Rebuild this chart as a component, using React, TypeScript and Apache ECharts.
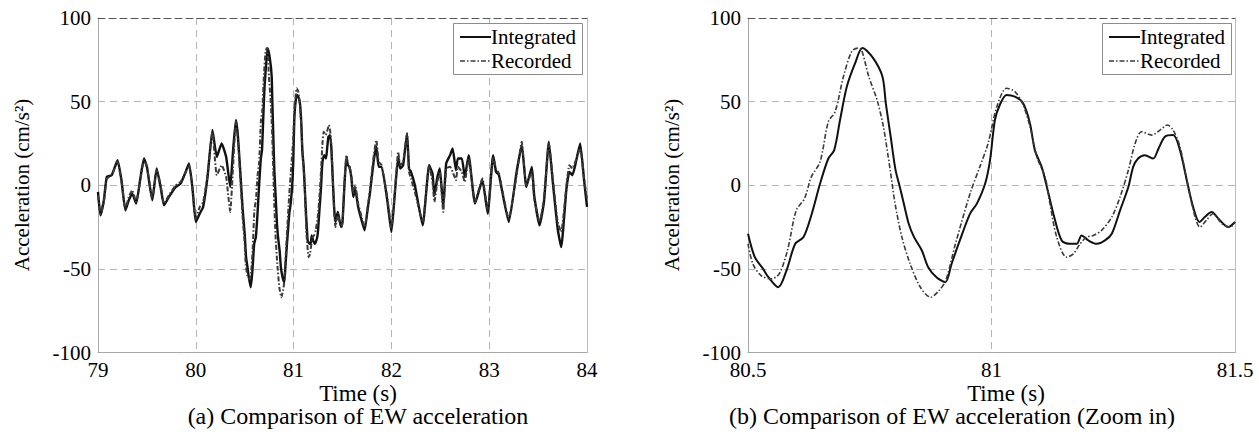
import React, { useEffect, useRef } from "react";
import * as echarts from "echarts";

const FONT = "'Liberation Serif', 'DejaVu Serif', 'Times New Roman', serif";

const seriesNames = ["Integrated", "Recorded"];
const captions = ["(a) Comparison of EW acceleration", "(b) Comparison of EW acceleration (Zoom in)"];
const xTitle = "Time (s)";
const yTitle = "Acceleration (cm/s\u00B2)";

// Panel (a), 79 – 80.5 s
const preTime = [79.0, 79.025, 79.06, 79.09, 79.14, 79.2, 79.24, 79.28, 79.315, 79.35, 79.39, 79.43, 79.47, 79.5, 79.555, 79.6, 79.64, 79.675, 79.725, 79.795, 79.845, 79.89, 79.93, 79.965, 80.0, 80.04, 80.075, 80.12, 80.17, 80.215, 80.264, 80.31, 80.352, 80.38, 80.41, 80.43, 80.455, 80.48];
const preIntegrated = [-4, -18, -9, 5, 6, 15, 3, -15, -9, -5, -11, 3, 16, 11, -9, 10, -1, -12, -7, -1, 1, 7, 13, -1, -22, -17, -13, 5, 33, 17, 25, 17, -1, 20, 39, 30, 8, -15];
const preRecorded = [-6, -17, -10, 4, 6, 14, 2, -14, -7, -3, -10, 2, 15, 11, -8, 9, 0, -11, -6, 0, 2, 7, 12, -2, -20, -13, -10, 6, 32, 6, 12, 5, -16, 10, 38, 28, 4, -20];

// Zoom window 80.5 – 81.5 s (shared by both panels)
const zoomTimeIntegrated = [80.5, 80.514, 80.531, 80.542, 80.562, 80.579, 80.597, 80.614, 80.631, 80.648, 80.665, 80.677, 80.689, 80.703, 80.72, 80.735, 80.757, 80.776, 80.783, 80.793, 80.803, 80.81, 80.82, 80.83, 80.841, 80.857, 80.87, 80.887, 80.905, 80.918, 80.935, 80.956, 80.97, 80.987, 80.997, 81.007, 81.017, 81.031, 81.048, 81.065, 81.079, 81.089, 81.103, 81.117, 81.127, 81.144, 81.161, 81.175, 81.185, 81.199, 81.216, 81.233, 81.247, 81.264, 81.281, 81.291, 81.301, 81.315, 81.332, 81.343, 81.356, 81.373, 81.387, 81.401, 81.414, 81.427, 81.438, 81.452, 81.466, 81.486, 81.5];
const zoomIntegrated = [-29, -43, -50, -55, -61, -51, -35, -31, -17, 1, 16, 21, 39, 59, 73, 82, 76, 65, 49, 29, 9, 1, -11, -23, -31, -39, -49, -55, -58, -47, -33, -17, -11, 1, 15, 39, 48, 54, 53, 49, 37, 21, 11, -5, -17, -33, -35, -35, -30, -33, -35, -33, -29, -15, -1, 11, 16, 18, 16, 22, 29, 30, 21, 3, -13, -22, -19, -16, -20, -25, -22];
const zoomTimeRecorded = [80.5, 80.51, 80.527, 80.547, 80.564, 80.581, 80.599, 80.616, 80.63, 80.648, 80.665, 80.679, 80.696, 80.713, 80.726, 80.733, 80.748, 80.765, 80.778, 80.792, 80.802, 80.816, 80.833, 80.854, 80.875, 80.892, 80.906, 80.926, 80.956, 80.976, 80.993, 81.011, 81.031, 81.048, 81.065, 81.079, 81.093, 81.11, 81.12, 81.134, 81.154, 81.168, 81.182, 81.195, 81.209, 81.226, 81.247, 81.264, 81.281, 81.295, 81.308, 81.329, 81.346, 81.361, 81.373, 81.387, 81.401, 81.418, 81.428, 81.441, 81.455, 81.473, 81.49, 81.5];
const zoomRecorded = [-35, -47, -54, -56, -53, -39, -15, -8, 5, 14, 38, 44, 65, 80, 82, 81, 65, 51, 35, 9, -11, -31, -47, -61, -67, -63, -57, -35, -5, 11, 25, 47, 58, 56, 48, 35, 17, 5, -11, -31, -43, -41, -35, -31, -30, -27, -19, -7, 9, 25, 32, 30, 33, 36, 33, 23, 3, -19, -25, -21, -17, -23, -25, -22];

// Panel (a), 81.5 – 84 s
const postTime = [81.52, 81.54, 81.555, 81.57, 81.59, 81.61, 81.63, 81.66, 81.7, 81.726, 81.76, 81.78, 81.82, 81.846, 81.87, 81.9, 81.96, 82.0, 82.035, 82.07, 82.09, 82.12, 82.16, 82.18, 82.2, 82.24, 82.32, 82.386, 82.42, 82.44, 82.47, 82.495, 82.53, 82.56, 82.6, 82.626, 82.66, 82.68, 82.72, 82.75, 82.79, 82.855, 82.93, 82.985, 83.04, 83.07, 83.1, 83.2, 83.28, 83.333, 83.38, 83.436, 83.46, 83.515, 83.56, 83.61, 83.65, 83.7, 83.736, 83.79, 83.82, 83.85, 83.88, 83.93, 83.97, 84.0];
const postIntegrated = [0, 17, 12, 11, 5, -7, -2, -13, -22, -27, -13, -5, 15, 23, 11, 11, -10, -28, -5, 17, 10, 12, 31, 10, 8, 0, -24, 12, 7, -6, 5, 10, -13, 13, 18, 22, 9, 16, 16, 5, 18, -11, 3, -17, 18, 8, 6, -22, 8, 24, -1, 11, -6, -24, -10, 26, 2, -26, -37, -2, 8, 6, 12, 25, 3, -13];
const postRecorded = [2, 18, 13, 12, 6, -5, 0, -11, -20, -25, -12, -3, 18, 27, 14, 12, -8, -26, -4, 20, 12, 14, 31, 8, 4, -4, -22, 12, 2, -10, 2, 8, -16, 10, 11, 8, 3, 11, 8, 2, 16, -10, 4, -15, 17, 10, 7, -20, 6, 26, 0, 8, -8, -22, -8, 25, 4, -22, -28, 0, 12, 10, 14, 22, 4, -8];

const zip = (ts: number[], vs: number[]) => ts.map((t, i) => [t, vs[i]]);

const GRID_A = { left: 98, top: 18, width: 489, height: 334.5 };
const GRID_B = { left: 748, top: 18, width: 487, height: 334.5 };

const tickFont = { color: "#000", fontFamily: FONT, fontSize: 21 };

function xAxes(gridIndex: number, min: number, max: number, interval: number) {
  return [
    {
      type: "value", gridIndex, min, max, interval,
      axisLine: { show: true, onZero: false, lineStyle: { color: "#a8a8a8", width: 1 } },
      axisTick: { show: false },
      axisLabel: { ...tickFont, margin: 7, showMinLabel: true, showMaxLabel: true },
      splitLine: { show: true, showMinLine: false, showMaxLine: false, lineStyle: { color: "#b4b4b4", width: 1, type: [7, 5] } },
    },
    {
      type: "value", gridIndex, min, max, interval, position: "top",
      axisLine: { show: true, onZero: false, lineStyle: { color: "#555", width: 1, type: [7, 4] } },
      axisTick: { show: false }, axisLabel: { show: false }, splitLine: { show: false },
    },
  ];
}

function yAxes(gridIndex: number) {
  return [
    {
      type: "value", gridIndex, min: -100, max: 100, interval: 50,
      axisLine: { show: true, onZero: false, lineStyle: { color: "#a8a8a8", width: 1 } },
      axisTick: { show: false },
      axisLabel: { ...tickFont, margin: 7 },
      splitLine: { show: true, showMinLine: false, showMaxLine: false, lineStyle: { color: "#b4b4b4", width: 1, type: [7, 5] } },
    },
    {
      type: "value", gridIndex, min: -100, max: 100, interval: 50, position: "right",
      axisLine: { show: true, onZero: false, lineStyle: { color: "#bdbdbd", width: 1 } },
      axisTick: { show: false }, axisLabel: { show: false }, splitLine: { show: false },
    },
  ];
}

const recordedDash = [5, 2, 1.5, 2];

function lineSeries(name: string, xi: number, yi: number, data: number[][], recorded: boolean, wide: boolean) {
  return {
    name, type: "line", xAxisIndex: xi, yAxisIndex: yi, data,
    showSymbol: false, symbol: "none", silent: true,
    smooth: wide ? 0.15 : 0.3,
    lineStyle: recorded
      ? { color: "#3a3a3a", width: wide ? 2 : 1.6, type: recordedDash }
      : { color: "#111", width: wide ? 2.4 : 2 },
    z: recorded ? 4 : 3,
  };
}

function textEl(text: string, x: number, y: number, size: number, align = "center", rotation = 0) {
  return {
    type: "text", x, y, rotation, z: 20,
    style: {
      text, fill: "#000", font: `${size}px ${FONT}`, fontFamily: FONT, fontSize: size,
      align, textAlign: align, verticalAlign: "middle", textVerticalAlign: "middle",
    },
  };
}

function legend(dx: number) {
  return [
    { type: "rect", z: 15, shape: { x: 453.5 + dx, y: 23.5, width: 129, height: 51 }, style: { fill: "#fff", stroke: "#8c8c8c", lineWidth: 1 } },
    { type: "line", z: 16, shape: { x1: 460 + dx, y1: 37, x2: 491 + dx, y2: 37 }, style: { stroke: "#111", lineWidth: 2 } },
    textEl(seriesNames[0], 491 + dx, 37, 21, "left"),
    { type: "line", z: 16, shape: { x1: 460 + dx, y1: 61, x2: 491 + dx, y2: 61 }, style: { stroke: "#3a3a3a", lineWidth: 1.6, lineDash: recordedDash } },
    textEl(seriesNames[1], 491 + dx, 61, 21, "left"),
  ];
}

export default function App() {
  const ref = useRef<HTMLDivElement>(null);
  useEffect(() => {
    if (!ref.current) return;
    const chart = echarts.init(ref.current, null, { renderer: "svg" });
    const intA = [...zip(preTime, preIntegrated), ...zip(zoomTimeIntegrated, zoomIntegrated), ...zip(postTime, postIntegrated)];
    const recA = [...zip(preTime, preRecorded), ...zip(zoomTimeRecorded, zoomRecorded), ...zip(postTime, postRecorded)];
    const intB = zip(zoomTimeIntegrated, zoomIntegrated);
    const recB = zip(zoomTimeRecorded, zoomRecorded);
    chart.setOption({
      animation: false,
      backgroundColor: "#fff",
      textStyle: { fontFamily: FONT },
      grid: [
        { ...GRID_A, containLabel: false, outerBoundsMode: "none" },
        { ...GRID_B, containLabel: false, outerBoundsMode: "none" },
      ],
      xAxis: [...xAxes(0, 79, 84, 1), ...xAxes(1, 80.5, 81.5, 0.5)],
      yAxis: [...yAxes(0), ...yAxes(1)],
      series: [
        lineSeries(seriesNames[0], 0, 0, intA, false, true),
        lineSeries(seriesNames[1], 0, 0, recA, true, true),
        lineSeries(seriesNames[0], 2, 2, intB, false, false),
        lineSeries(seriesNames[1], 2, 2, recB, true, false),
      ],
      graphic: [
        ...legend(0),
        ...legend(649),
        textEl(yTitle, 22, 185, 21, "center", Math.PI / 2),
        textEl(yTitle, 672, 185, 21, "center", Math.PI / 2),
        textEl(xTitle, 358, 393, 23),
        textEl(xTitle, 1006, 393, 23),
        textEl(captions[0], 358, 416, 24),
        textEl(captions[1], 952, 416, 24),
      ],
    });
    return () => chart.dispose();
  }, []);
  return <div ref={ref} style={{ position: "absolute", left: 0, top: 0, width: 1259, height: 443, background: "#fff" }} />;
}
